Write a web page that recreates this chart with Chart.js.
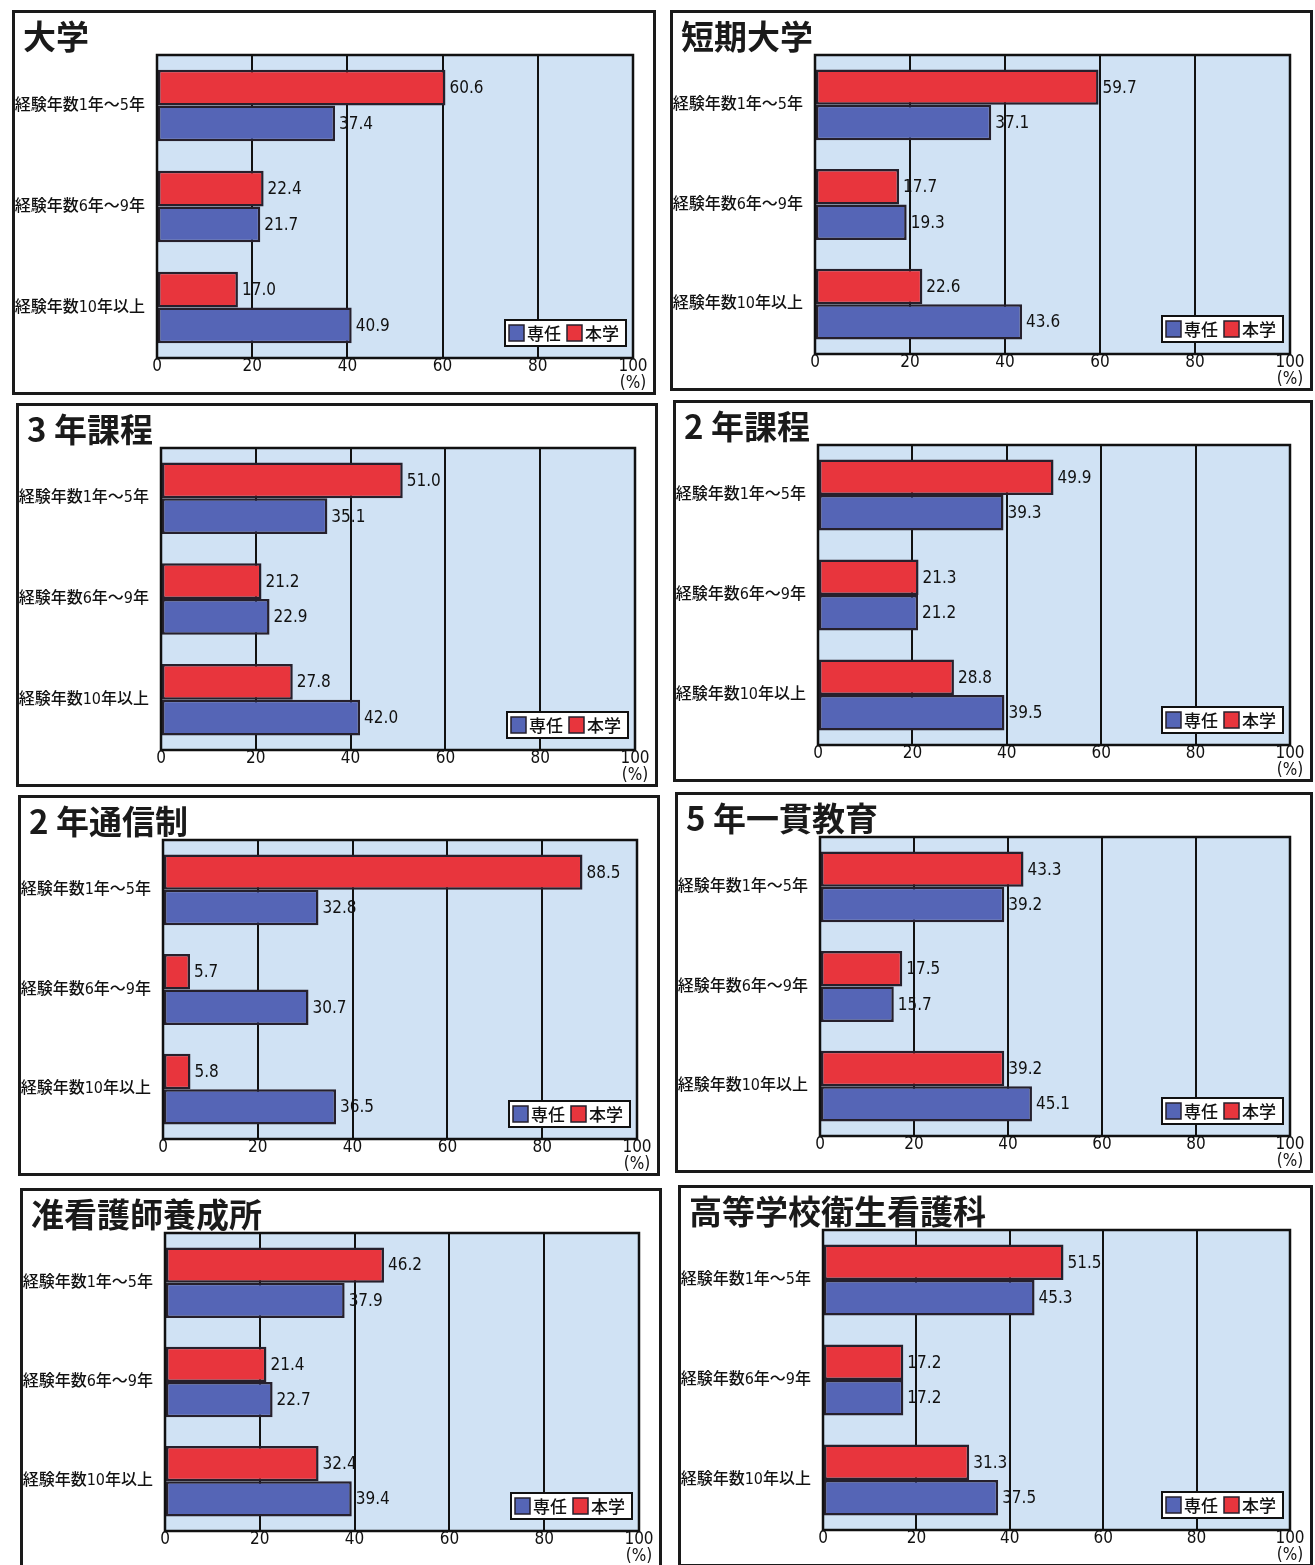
<!DOCTYPE html>
<html lang="ja">
<head>
<meta charset="utf-8">
<title>経験年数別 教員構成</title>
<script src="https://cdn.jsdelivr.net/npm/chart.js@4.4.1/dist/chart.umd.min.js"></script>
<style>
  html, body { margin: 0; padding: 0; background: #fff; }
  body { width: 1315px; height: 1565px; position: relative; overflow: hidden; }
  .panel { position: absolute; box-sizing: border-box; border: 3px solid #1a1a1a; background: #fff; }
  .panel canvas { position: absolute; left: 0; top: 0; }
  .panel h2 {
    position: absolute; left: 8px; top: 2px; margin: 0;
    font: bold 33px "Noto Sans CJK JP", sans-serif; line-height: 40px; color: #1a1a1a;
    z-index: 2;
  }
</style>
</head>
<body>
<script>
// --- data --- //
const categories = ['経験年数1年～5年', '経験年数6年～9年', '経験年数10年以上'];
const panelTitles = ['大学', '短期大学', '3 年課程', '2 年課程', '2 年通信制', '5 年一貫教育', '准看護師養成所', '高等学校衛生看護科'];
const seriesNames = ['本学', '専任'];
// 本学 (red)
const honbuValues = [
  [60.6, 22.4, 17.0],
  [59.7, 17.7, 22.6],
  [51.0, 21.2, 27.8],
  [49.9, 21.3, 28.8],
  [88.5, 5.7, 5.8],
  [43.3, 17.5, 39.2],
  [46.2, 21.4, 32.4],
  [51.5, 17.2, 31.3]
];
// 専任 (blue)
const senninValues = [
  [37.4, 21.7, 40.9],
  [37.1, 19.3, 43.6],
  [35.1, 22.9, 42.0],
  [39.3, 21.2, 39.5],
  [32.8, 30.7, 36.5],
  [39.2, 15.7, 45.1],
  [37.9, 22.7, 39.4],
  [45.3, 17.2, 37.5]
];
const xTickValues = [0, 20, 40, 60, 80, 100];

// --- layout (left, top, width, height of each boxed panel) --- //
const panelBoxes = [
  [12, 10, 644, 385], [670, 10, 643, 381],
  [16, 403, 642, 384], [673, 400, 640, 382],
  [18, 795, 642, 381], [675, 792, 638, 381],
  [20, 1188, 642, 380], [678, 1185, 635, 382]
];

const RED = '#e8353d';
const BLUE = '#5565b6';
const BAR_EDGE = '#26202c';
const PLOT_BG = '#d0e2f4';
const NARROW = '"Liberation Sans Narrow", "DejaVu Sans Condensed", "Noto Sans CJK JP", sans-serif';

const panelPlugin = {
  id: 'panelDecor',
  beforeDraw(chart) {
    const { ctx, chartArea: a } = chart;
    ctx.save();
    ctx.fillStyle = PLOT_BG;
    ctx.fillRect(a.left, a.top, a.right - a.left, a.bottom - a.top);
    ctx.restore();
  },
  afterDatasetsDraw(chart) {
    const { ctx, chartArea: a } = chart;
    ctx.save();
    // value labels
    ctx.font = '500 17px ' + NARROW;
    ctx.fillStyle = '#111';
    ctx.textBaseline = 'middle';
    ctx.textAlign = 'left';
    chart.data.datasets.forEach((ds, i) => {
      chart.getDatasetMeta(i).data.forEach((bar, j) => {
        ctx.fillText(ds.data[j].toFixed(1), bar.x + 4, bar.y + 1);
      });
    });
    // plot frame
    ctx.strokeStyle = '#111';
    ctx.lineWidth = 2.5;
    ctx.strokeRect(a.left, a.top, a.right - a.left, a.bottom - a.top);
    // legend box (専任 first, then 本学)
    const w = 121, h = 26;
    const x0 = a.right - 7 - w, y0 = a.bottom - 12 - h;
    ctx.fillStyle = '#fff';
    ctx.fillRect(x0, y0, w, h);
    ctx.lineWidth = 2;
    ctx.strokeRect(x0, y0, w, h);
    const items = [
      { label: chart.data.datasets[1].label, color: BLUE, dx: 4 },
      { label: chart.data.datasets[0].label, color: RED, dx: 62 }
    ];
    ctx.font = '500 17px "Noto Sans CJK JP", sans-serif';
    items.forEach(it => {
      ctx.fillStyle = it.color;
      ctx.fillRect(x0 + it.dx, y0 + 5, 15, 16);
      ctx.lineWidth = 1.5;
      ctx.strokeStyle = BAR_EDGE;
      ctx.strokeRect(x0 + it.dx, y0 + 5, 15, 16);
      ctx.fillStyle = '#111';
      ctx.fillText(it.label, x0 + it.dx + 18, y0 + h / 2 + 1);
    });
    ctx.restore();
  }
};

panelTitles.forEach((title, p) => {
  const [left, top, width, height] = panelBoxes[p];
  const box = document.createElement('div');
  box.className = 'panel';
  Object.assign(box.style, { left: left + 'px', top: top + 'px', width: width + 'px', height: height + 'px' });
  const h2 = document.createElement('h2');
  h2.textContent = title;
  const canvas = document.createElement('canvas');
  canvas.width = width - 6;
  canvas.height = height - 6;
  box.appendChild(h2);
  box.appendChild(canvas);
  document.body.appendChild(box);

  new Chart(canvas.getContext('2d'), {
    type: 'bar',
    data: {
      labels: categories,
      datasets: [
        {
          label: seriesNames[0],
          data: honbuValues[p],
          backgroundColor: RED,
          borderColor: BAR_EDGE,
          borderWidth: 2.5,
          borderSkipped: false
        },
        {
          label: seriesNames[1],
          data: senninValues[p],
          backgroundColor: BLUE,
          borderColor: BAR_EDGE,
          borderWidth: 2.5,
          borderSkipped: false
        }
      ]
    },
    options: {
      indexAxis: 'y',
      responsive: false,
      animation: false,
      layout: { padding: { top: 42, right: 20, left: 0, bottom: 0 } },
      datasets: { bar: { categoryPercentage: 0.71, barPercentage: 1.0 } },
      plugins: { legend: { display: false }, tooltip: { enabled: false } },
      scales: {
        x: {
          min: 0,
          max: 100,
          afterBuildTicks: (axis) => { axis.ticks = xTickValues.map(v => ({ value: v })); },
          afterFit: (axis) => { axis.height = 34; },
          grid: { color: '#111', lineWidth: 2, drawTicks: false },
          border: { display: false },
          ticks: {
            color: '#111',
            padding: 1,
            font: { family: NARROW, size: 17, weight: '500', lineHeight: 0.95 },
            callback: (v) => (v === 100 ? ['100', '(%)'] : String(v))
          }
        },
        y: {
          afterFit: (axis) => { axis.width = 142; },
          grid: { display: false },
          border: { display: false },
          ticks: {
            color: '#111',
            padding: 4,
            font: { family: NARROW, size: 16, weight: '500' }
          }
        }
      }
    },
    plugins: [panelPlugin]
  });
});
</script>
</body>
</html>
